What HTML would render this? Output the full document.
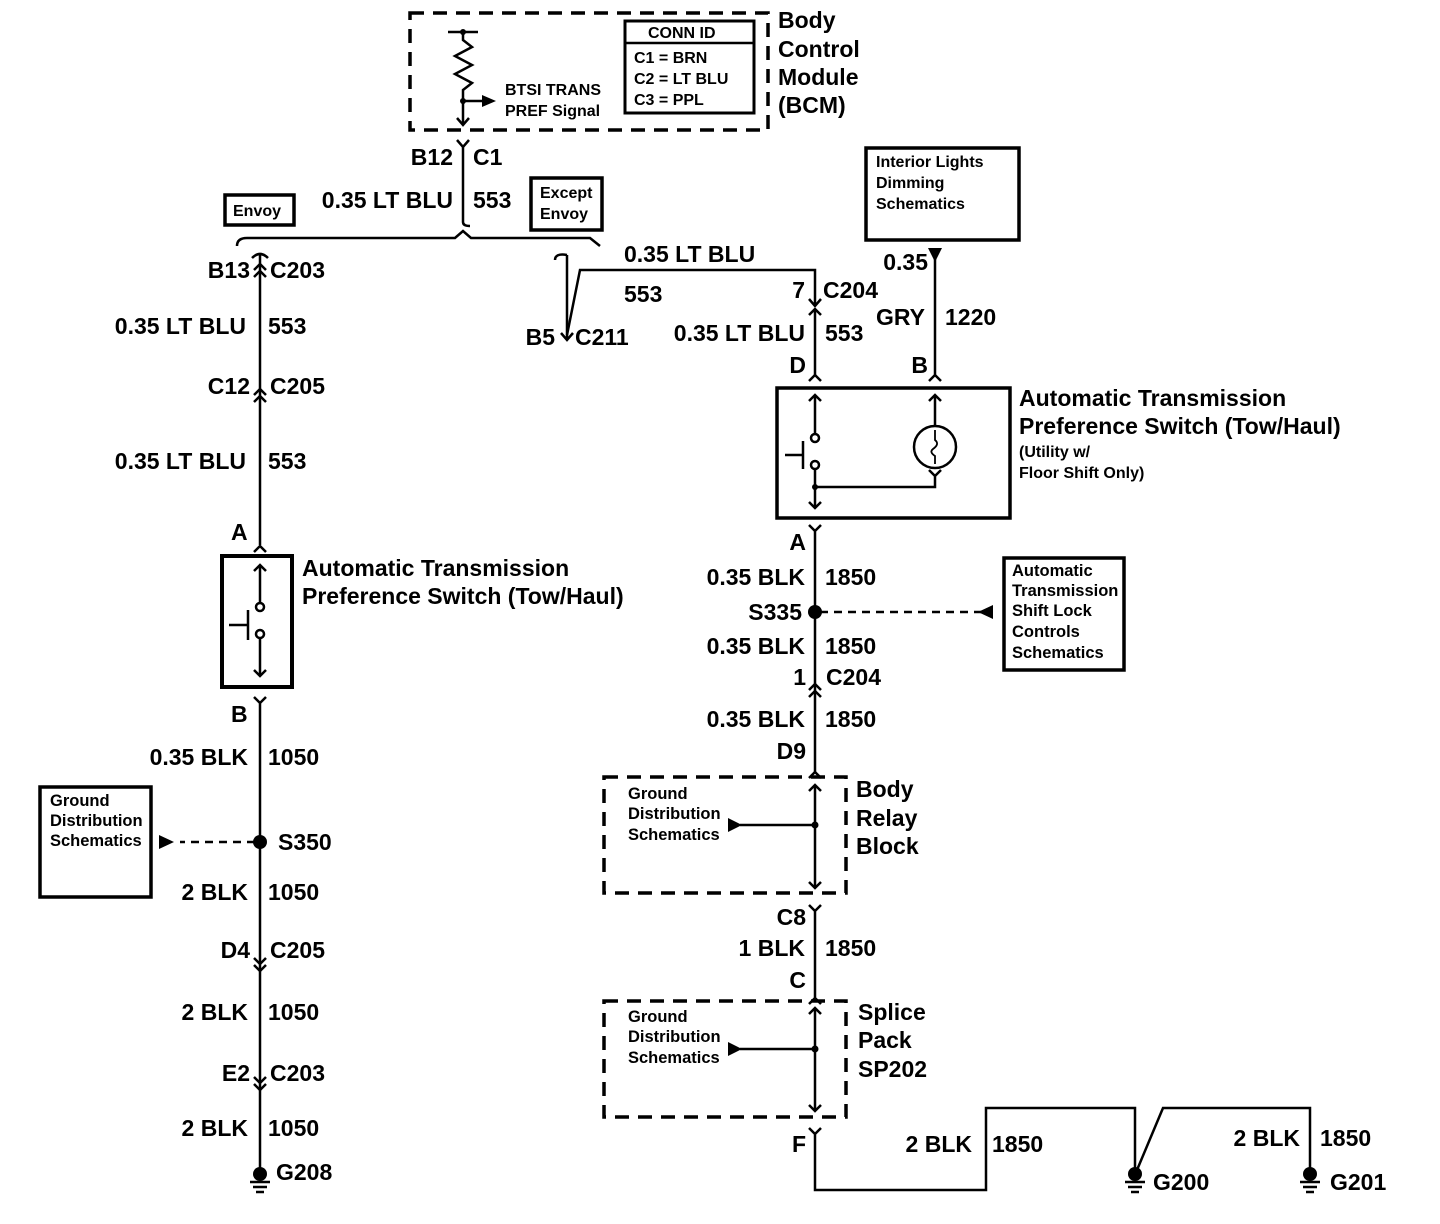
<!DOCTYPE html>
<html><head><meta charset="utf-8"><style>
html,body{margin:0;padding:0;background:#fff;}
svg{display:block;}
text{font-family:"Liberation Sans",sans-serif;fill:#000;font-weight:bold;}
.L{font-size:23px;}
.M{font-size:16px;}
.S{font-size:16.5px;}
.r{text-anchor:end;}
</style></head><body>
<svg width="1440" height="1224" viewBox="0 0 1440 1224" xmlns="http://www.w3.org/2000/svg">
<g stroke="#000" stroke-width="2.5" fill="none">
<rect x="410" y="13" width="358" height="117" stroke-width="3.5" stroke-dasharray="14,9"/>
<path d="M448 32 H478 M463 32 V40 L472 47 L455 56 L472 65 L455 74 L472 83 L463 90 V124"/>
<path d="M457 118 L463 125 L469 118"/>
<path d="M463 101 H483"/>
<rect x="625" y="21" width="129" height="92" stroke-width="3"/>
<path d="M625 43 H754"/>
<path d="M457 140 L463 147 L469 140 M463 147 V222 Q463 226 470 226"/>
<rect x="225" y="195" width="69" height="30" stroke-width="3.5"/>
<rect x="531" y="178" width="71" height="52" stroke-width="3.5"/>
<path d="M237 246 Q237 238 247 238 H455 L463 231 L471 238 H590 L600 246"/>
<path d="M252 258 Q260 250 268 258 M260 253 V545"/>
<path d="M254 270 L260 264 L266 270 M254 277 L260 271 L266 277"/>
<path d="M254 395 L260 389 L266 395 M254 402 L260 396 L266 402"/>
<path d="M254 552 L260 546 L266 552"/>
<rect x="222" y="556" width="70" height="131" stroke-width="4"/>
<path d="M260 565 V603 M254 571 L260 565 L266 571"/>
<circle cx="260" cy="607" r="4"/>
<circle cx="260" cy="634" r="4"/>
<path d="M260 638 V676 M254 670 L260 676 L266 670"/>
<path d="M248 610 V640 M229 625 H248"/>
<path d="M254 697 L260 703 L266 697 M260 703 V1168"/>
<path d="M255 842 H180" stroke-dasharray="8,6"/>
<rect x="40" y="787" width="111" height="110" stroke-width="3.5"/>
<path d="M254 958 L260 964 L266 958 M254 965 L260 971 L266 965"/>
<path d="M254 1077 L260 1083 L266 1077 M254 1084 L260 1090 L266 1084"/>
<path d="M555 260 Q555 253 567 255 M567 255 V340 M561 333 L567 340 L573 333"/>
<path d="M567 335 L580 270 H815 V306 M809 299 L815 306 L821 299 M809 315 L815 309 L821 315 M815 309 V375"/>
<path d="M809 381 L815 375 L821 381"/>
<path d="M935 250 V375 M929 381 L935 375 L941 381"/>
<rect x="866" y="148" width="153" height="92" stroke-width="3.5"/>
<rect x="777" y="388" width="233" height="130" stroke-width="3.5"/>
<path d="M815 395 V433 M809 401 L815 395 L821 401"/>
<circle cx="815" cy="438" r="4"/>
<circle cx="815" cy="465" r="4"/>
<path d="M803 441 V469 M785 455 H803"/>
<path d="M815 469 V508 M809 502 L815 508 L821 502"/>
<path d="M815 487 H935 V475 M929 470 L935 476 L941 470"/>
<path d="M935 395 V425 M929 401 L935 395 L941 401"/>
<circle cx="935" cy="447" r="21"/>
<path d="M935 430 V440 Q940 444 933 449 Q929 452 935 456 V464" stroke-width="1.8"/>
<path d="M809 525 L815 531 L821 525 M815 531 V772"/>
<path d="M820 612 H985" stroke-dasharray="8,6"/>
<rect x="1004" y="558" width="120" height="112" stroke-width="3.5"/>
<path d="M809 690 L815 684 L821 690 M809 697 L815 691 L821 697"/>
<path d="M809 778 L815 772 L821 778"/>
<rect x="604" y="777" width="242" height="116" stroke-width="3.5" stroke-dasharray="14,9"/>
<path d="M815 785 V888 M809 791 L815 785 L821 791 M809 882 L815 888 L821 882"/>
<path d="M740 825 H815"/>
<path d="M809 905 L815 911 L821 905 M815 911 V998 M809 1004 L815 998 L821 1004"/>
<rect x="604" y="1001" width="242" height="116" stroke-width="3.5" stroke-dasharray="14,9"/>
<path d="M815 1008 V1111 M809 1014 L815 1008 L821 1014 M809 1105 L815 1111 L821 1105"/>
<path d="M740 1049 H815"/>
<path d="M809 1128 L815 1134 L821 1128 M815 1134 V1190 H986 V1108 H1135 V1172"/>
<path d="M1137 1170 L1163 1108 H1310 V1172"/>
<path d="M250 1182 H270 M253 1187 H267 M256 1192 H264"/>
<path d="M1125 1182 H1145 M1128 1187 H1142 M1131 1192 H1139"/>
<path d="M1300 1182 H1320 M1303 1187 H1317 M1306 1192 H1314"/>
</g>
<g fill="#000">
<circle cx="463" cy="32" r="3"/><circle cx="463" cy="101" r="3"/>
<polygon points="482,95 496,101 482,107"/>
<circle cx="260" cy="842" r="7"/>
<polygon points="160,842 175,835 175,849" transform="rotate(180 167 842)"/>
<polygon points="928,248 942,248 935,262"/>
<circle cx="815" cy="612" r="7"/>
<polygon points="978,612 993,605 993,619"/>
<polygon points="728,818 742,825 728,832"/>
<polygon points="728,1042 742,1049 728,1056"/>
<circle cx="815" cy="825" r="3.5"/><circle cx="815" cy="1049" r="3.5"/><circle cx="815" cy="487" r="3"/>
<circle cx="260" cy="1174" r="7"/><circle cx="1135" cy="1174" r="7"/><circle cx="1310" cy="1174" r="7"/>
</g>
<text class="L" x="778" y="28">Body</text>
<text class="L" x="778" y="57">Control</text>
<text class="L" x="778" y="85">Module</text>
<text class="L" x="778" y="113">(BCM)</text>
<text class="M" x="505" y="95">BTSI TRANS</text>
<text class="M" x="505" y="116">PREF Signal</text>
<text class="M" x="648" y="38">CONN ID</text>
<text class="M" x="634" y="63">C1 = BRN</text>
<text class="M" x="634" y="84">C2 = LT BLU</text>
<text class="M" x="634" y="105">C3 = PPL</text>
<text class="L r" x="453" y="165">B12</text><text class="L" x="473" y="165">C1</text>
<text class="L r" x="453" y="208">0.35 LT BLU</text><text class="L" x="473" y="208">553</text>
<text class="M" x="233" y="216">Envoy</text>
<text class="M" x="540" y="198">Except</text><text class="M" x="540" y="219">Envoy</text>
<text class="L r" x="250" y="278">B13</text><text class="L" x="270" y="278">C203</text>
<text class="L r" x="246" y="334">0.35 LT BLU</text><text class="L" x="268" y="334">553</text>
<text class="L r" x="250" y="394">C12</text><text class="L" x="270" y="394">C205</text>
<text class="L r" x="246" y="469">0.35 LT BLU</text><text class="L" x="268" y="469">553</text>
<text class="L" x="231" y="540">A</text>
<text class="L" x="302" y="576">Automatic Transmission</text>
<text class="L" x="302" y="604">Preference Switch (Tow/Haul)</text>
<text class="L" x="231" y="722">B</text>
<text class="L r" x="248" y="765">0.35 BLK</text><text class="L" x="268" y="765">1050</text>
<text class="S" x="50" y="806">Ground</text><text class="S" x="50" y="826">Distribution</text><text class="S" x="50" y="846">Schematics</text>
<text class="L" x="278" y="850">S350</text>
<text class="L r" x="248" y="900">2 BLK</text><text class="L" x="268" y="900">1050</text>
<text class="L r" x="250" y="958">D4</text><text class="L" x="270" y="958">C205</text>
<text class="L r" x="248" y="1020">2 BLK</text><text class="L" x="268" y="1020">1050</text>
<text class="L r" x="250" y="1081">E2</text><text class="L" x="270" y="1081">C203</text>
<text class="L r" x="248" y="1136">2 BLK</text><text class="L" x="268" y="1136">1050</text>
<text class="L" x="276" y="1180">G208</text>
<text class="L r" x="555" y="345">B5</text><text class="L" x="575" y="345">C211</text>
<text class="L" x="624" y="262">0.35 LT BLU</text>
<text class="L" x="624" y="302">553</text>
<text class="L r" x="805" y="298">7</text><text class="L" x="823" y="298">C204</text>
<text class="L r" x="805" y="341">0.35 LT BLU</text><text class="L" x="825" y="341">553</text>
<text class="L r" x="806" y="373">D</text>
<text class="L r" x="928" y="373">B</text>
<text class="M" x="876" y="167">Interior Lights</text><text class="M" x="876" y="188">Dimming</text><text class="M" x="876" y="209">Schematics</text>
<text class="L r" x="928" y="270">0.35</text>
<text class="L r" x="925" y="325">GRY</text><text class="L" x="945" y="325">1220</text>
<text class="L" x="1019" y="406">Automatic Transmission</text>
<text class="L" x="1019" y="434">Preference Switch (Tow/Haul)</text>
<text class="M" x="1019" y="457">(Utility w/</text>
<text class="M" x="1019" y="478">Floor Shift Only)</text>
<text class="L r" x="806" y="550">A</text>
<text class="L r" x="805" y="585">0.35 BLK</text><text class="L" x="825" y="585">1850</text>
<text class="L r" x="802" y="620">S335</text>
<text class="S" x="1012" y="576">Automatic</text><text class="S" x="1012" y="596">Transmission</text><text class="S" x="1012" y="616">Shift Lock</text><text class="S" x="1012" y="637">Controls</text><text class="S" x="1012" y="658">Schematics</text>
<text class="L r" x="805" y="654">0.35 BLK</text><text class="L" x="825" y="654">1850</text>
<text class="L r" x="806" y="685">1</text><text class="L" x="826" y="685">C204</text>
<text class="L r" x="805" y="727">0.35 BLK</text><text class="L" x="825" y="727">1850</text>
<text class="L r" x="806" y="759">D9</text>
<text class="S" x="628" y="799">Ground</text><text class="S" x="628" y="819">Distribution</text><text class="S" x="628" y="840">Schematics</text>
<text class="L" x="856" y="797">Body</text><text class="L" x="856" y="826">Relay</text><text class="L" x="856" y="854">Block</text>
<text class="L r" x="806" y="925">C8</text>
<text class="L r" x="805" y="956">1 BLK</text><text class="L" x="825" y="956">1850</text>
<text class="L r" x="806" y="988">C</text>
<text class="S" x="628" y="1022">Ground</text><text class="S" x="628" y="1042">Distribution</text><text class="S" x="628" y="1063">Schematics</text>
<text class="L" x="858" y="1020">Splice</text><text class="L" x="858" y="1048">Pack</text><text class="L" x="858" y="1077">SP202</text>
<text class="L r" x="806" y="1152">F</text>
<text class="L r" x="972" y="1152">2 BLK</text><text class="L" x="992" y="1152">1850</text>
<text class="L r" x="1300" y="1146">2 BLK</text><text class="L" x="1320" y="1146">1850</text>
<text class="L" x="1153" y="1190">G200</text>
<text class="L" x="1330" y="1190">G201</text>
</svg>
</body></html>
